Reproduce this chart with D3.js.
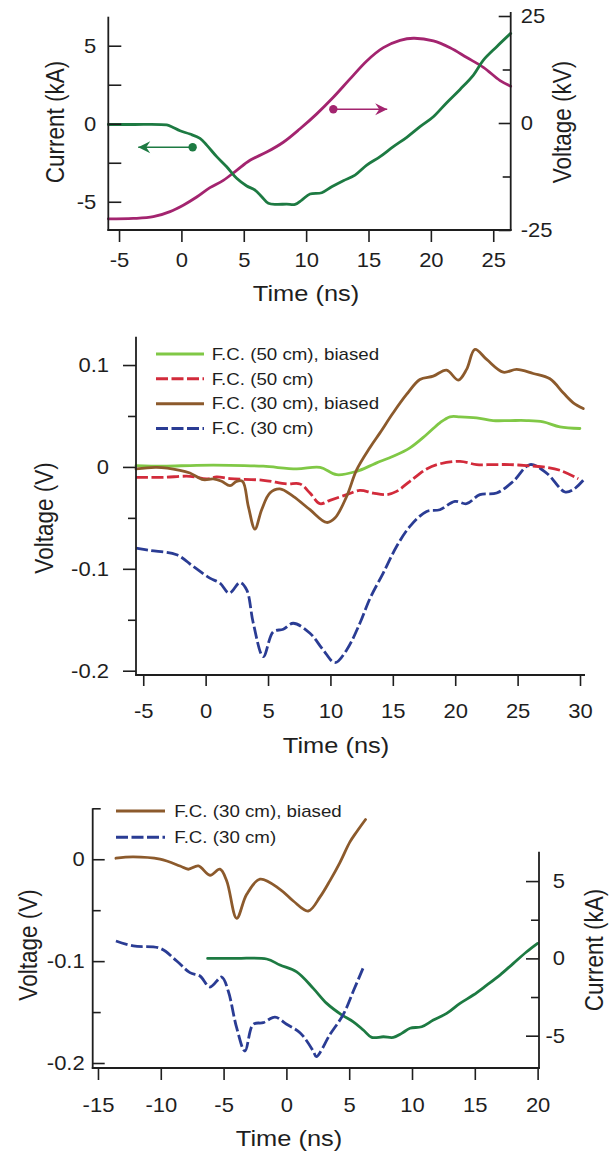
<!DOCTYPE html>
<html><head><meta charset="utf-8">
<script src="https://cdn.jsdelivr.net/npm/d3@7"></script>
<style>
body{margin:0;background:#fff;}
svg text{font-family:"Liberation Sans", Arial, sans-serif; fill:#1e1e1e;}
</style></head><body>
<svg id="c" width="616" height="1152"></svg>
<script>
// ---------- DATA ----------
// Top panel: current (kA) and voltage (kV) vs time (ns)
const topCurrentTime = [-5.86,-3.86,-1.18,-0.78,-0.11,0.69,1.49,2.03,2.83,3.63,4.43,5.24,5.9,6.44,6.97,7.64,8.44,9.11,9.65,10.31,11.25,12.05,12.98,13.92,14.86,15.93,16.99,18.07,19.13,20.2,21.27,22.34,23.41,24.21,25.28,26.4];
const topCurrentKA   = [-0.05,-0.05,-0.08,-0.19,-0.45,-0.66,-0.94,-1.37,-2.11,-2.76,-3.5,-3.99,-4.25,-4.68,-5.1,-5.17,-5.15,-5.17,-4.89,-4.5,-4.42,-4.04,-3.65,-3.29,-2.65,-2.11,-1.47,-0.87,-0.19,0.45,1.35,2.2,3.12,4.08,4.94,5.79];
const topVoltTime = [-5.86,-3.86,-2.25,-0.91,0.15,1.23,2.29,3.36,4.43,5.5,6.84,8.17,9.51,10.85,12.18,13.52,14.86,16.19,17.53,18.6,20.2,21.54,22.88,24.21,25.55,26.4];
const topVoltKV   = [-22.4,-22.3,-21.9,-20.7,-19.2,-17.3,-15.1,-13.4,-11.05,-8.7,-6.8,-4.5,-1.35,2.13,6.0,10.3,14.5,17.6,19.3,19.8,19.2,17.6,15.3,13.0,9.9,8.6];
const topXTicks = [-5,0,5,10,15,20,25];
const topLeftTicks = [-5,0,5];
const topLeftMinor = [-2.5,2.5];
const topRightTicks = [-25,0,25];
const topRightMinor = [-12.5,12.5];
// arrow markers: [time, value, arrow end time]
const currentMarker = [0.9,-1.51,-3.46];
const voltageMarker = [12.18,3.2,16.5];

// Middle panel: Faraday cup voltages (V) vs time (ns)
const fc50bTime = [-5.58,-3.4,-0.72,1.95,4.62,7.29,9.16,10.5,12.1,13.17,13.7,15.03,16.37,17.71,18.77,19.58,20.38,21.71,23.04,24.38,25.72,27.05,28.39,29.99];
const fc50bV    = [0.0013,0.0007,0.0016,0.0016,0.0007,-0.002,-0.0004,-0.0076,-0.0043,0.001,0.004,0.0104,0.0187,0.0318,0.0433,0.0492,0.0492,0.0482,0.0455,0.0455,0.0455,0.0442,0.0393,0.0377];
const fc50Time = [-5.58,-3.4,-1.26,0.08,0.88,1.95,4.62,6.49,7.56,8.36,9.16,9.96,11.3,12.36,13.43,14.5,15.3,16.37,17.71,18.77,20.38,21.71,23.04,24.38,25.72,27.05,28.39,29.86];
const fc50V    = [-0.0102,-0.0102,-0.0092,-0.0118,-0.0098,-0.0115,-0.0131,-0.0167,-0.0167,-0.0256,-0.0361,-0.0328,-0.0272,-0.023,-0.0256,-0.0272,-0.024,-0.0141,-0.002,0.003,0.0055,0.0023,0.0023,0.0023,0.0013,0,-0.0033,-0.0115];
const fc30bTime = [-5.58,-3.93,-2.06,-1.26,-0.19,0.61,1.28,1.95,2.48,2.96,3.42,3.95,4.49,5.15,5.95,7.02,8.36,9.7,10.36,11.3,12.1,13.17,13.97,15.03,16.1,17.17,18.24,19.31,20.24,20.91,21.58,22.52,23.85,24.92,26.25,27.59,28.65,29.46,30.26];
const fc30bV    = [-0.002,-0.0004,-0.0033,-0.006,-0.0125,-0.0118,-0.0141,-0.0184,-0.0141,-0.0141,-0.0387,-0.061,-0.042,-0.0256,-0.0216,-0.0289,-0.042,-0.0545,-0.0502,-0.0289,-0.003,0.019,0.0334,0.0531,0.0711,0.0858,0.0891,0.095,0.0852,0.0957,0.1153,0.1055,0.093,0.0957,0.0917,0.0865,0.0728,0.0629,0.0573];
const fc30Time = [-5.58,-4.46,-2.32,-0.99,0.34,1.15,1.89,2.75,3.29,3.82,4.62,5.42,6.22,7.02,8.36,9.42,10.36,11.3,12.36,13.17,14.23,15.3,16.37,17.71,18.77,19.98,20.91,21.98,23.32,24.65,25.99,27.32,28.79,29.46,30.26];
const fc30V    = [-0.0797,-0.082,-0.0862,-0.0977,-0.1091,-0.1141,-0.1239,-0.1135,-0.1207,-0.1534,-0.1862,-0.1617,-0.1593,-0.1534,-0.1632,-0.1796,-0.1921,-0.1796,-0.1534,-0.129,-0.1042,-0.0781,-0.0584,-0.0437,-0.042,-0.0338,-0.0361,-0.0272,-0.0256,-0.0141,0.0023,-0.006,-0.0246,-0.0223,-0.0131];
const midXTicks = [-5,0,5,10,15,20,25,30];
const midYTicks = [-0.2,-0.1,0,0.1];
const midYMinor = [-0.15,-0.05,0.05];
const midLegend = ["F.C. (50 cm), biased","F.C. (50 cm)","F.C. (30 cm), biased","F.C. (30 cm)"];

// Bottom panel: shifted F.C. (30 cm) traces with current
const botBrownTime = [-13.57,-12.19,-10.06,-8.47,-7.81,-7.01,-6.08,-5.29,-4.75,-3.96,-3.16,-2.1,-0.51,0.55,1.74,2.68,3.47,4.27,5.06,5.6,6.3];
const botBrownV    = [0.001,0.0023,0,-0.0066,-0.0098,-0.0066,-0.0157,-0.0098,-0.0213,-0.058,-0.0344,-0.0196,-0.0295,-0.041,-0.0508,-0.037,-0.021,-0.003,0.017,0.027,0.039];
const botBlueTime = [-13.57,-12.19,-10.06,-8.73,-7.68,-6.88,-6.08,-5.15,-4.63,-3.96,-3.3,-2.64,-1.84,-0.91,0.02,1.08,2.14,2.38,3.47,4.53,5.33,6.12];
const botBlueV    = [-0.0802,-0.0851,-0.0874,-0.0999,-0.1113,-0.1146,-0.1254,-0.1156,-0.1294,-0.1653,-0.1883,-0.162,-0.1604,-0.1549,-0.162,-0.1702,-0.1883,-0.1938,-0.172,-0.1523,-0.1294,-0.1064];
const botCurTime = [-6.27,-3.96,-1.57,-0.51,0.82,2.14,3.21,4.4,5.33,6.12,6.79,7.72,8.51,9.18,9.84,10.77,11.7,12.76,13.82,14.88,15.95,17.0,18.07,19.13,20.0];
const botCurKA   = [0,0,-0.04,-0.43,-0.87,-1.94,-2.91,-3.65,-4.1,-4.63,-5.11,-5.07,-5.11,-4.85,-4.52,-4.42,-3.99,-3.56,-2.91,-2.37,-1.73,-1.08,-0.32,0.43,0.97];
const botXTicks = [-15,-10,-5,0,5,10,15,20];
const botLeftTicks = [-0.2,-0.1,0];
const botLeftMinor = [-0.15,-0.05,0.05];
const botRightTicks = [-5,0,5];
const botRightMinor = [-2.5,2.5];
const botLegend = ["F.C. (30 cm), biased","F.C. (30 cm)"];

// ---------- STYLE ----------
const C = {green:"#1d7a42", magenta:"#a3246f", lime:"#80c846", red:"#d22b3b", brown:"#8c5a2c", blue:"#2a3c94", axis:"#1e1e1e"};
const DASH = "12,3.5";
const LW = 2.8;
const TF = 20, TK = 1.1;      // tick font size, horizontal stretch
const HF = 22.5, HK = 1.13;   // title font size, stretch
const LF = 16, LK = 1.17;     // legend font size, stretch
const svg = d3.select("#c");
const zip = (a,b)=>a.map((v,i)=>[v,b[i]]);
const fmt = d => String(d);

function line(g, x, y, xs, ys, color, dash){
  const gen = d3.line().x(d=>x(d[0])).y(d=>y(d[1])).curve(d3.curveCatmullRom.alpha(0.5));
  g.append("path").attr("d", gen(zip(xs,ys))).attr("fill","none").attr("stroke",color)
   .attr("stroke-width",LW).attr("stroke-linejoin","round").attr("stroke-linecap", dash?"butt":"round")
   .attr("stroke-dasharray", dash||null);
}
function styleAxis(sel){
  sel.select(".domain").remove();
  sel.selectAll(".tick line").attr("stroke",C.axis).attr("stroke-width",1.6);
  sel.selectAll(".tick text").attr("font-size",TF).attr("fill",C.axis).attr("font-family",'"Liberation Sans", Arial, sans-serif')
    .each(function(){ const t=d3.select(this); const X=+(t.attr("x")||0);
      t.attr("transform",`translate(${X},0) scale(${TK},1) translate(${-X},0)`); });
  return sel;
}
function vline(g,x,y1,y2){ g.append("line").attr("x1",x).attr("x2",x).attr("y1",y1).attr("y2",y2).attr("stroke",C.axis).attr("stroke-width",1.8); }
function hline(g,y,x1,x2){ g.append("line").attr("x1",x1).attr("x2",x2).attr("y1",y).attr("y2",y).attr("stroke",C.axis).attr("stroke-width",1.8); }
function title(g,txt,x,y,rot){
  g.append("text").attr("transform",`translate(${x},${y}) scale(${HK},1)`+(rot?" rotate(-90)":"")).attr("text-anchor","middle")
   .attr("font-size",HF).text(txt);
}
function legend(g, labels, cols, dashes, x1, x2, tx, y0, y1){
  const ly = d3.scalePoint().domain(labels).range([y0,y1]);
  labels.forEach((t,i)=>{
    g.append("line").attr("x1",x1).attr("x2",x2).attr("y1",ly(t)).attr("y2",ly(t)).attr("stroke",cols[i]).attr("stroke-width",3).attr("stroke-dasharray",dashes[i]);
    g.append("text").attr("transform",`translate(${tx},${ly(t)}) scale(${LK},1)`).attr("dy","0.36em").attr("font-size",LF).text(t);
  });
}

// ---------- TOP PANEL ----------
{
  const g = svg.append("g");
  const x = d3.scaleLinear().domain([-5.86,26.4]).range([108.3,510.7]);
  const yL = d3.scaleLinear().domain([-6.81,6.86]).range([230,16.7]);
  const yR = d3.scaleLinear().domain([-25,25]).range([230,16]);
  line(g,x,yR,topVoltTime,topVoltKV,C.magenta);
  line(g,x,yL,topCurrentTime,topCurrentKA,C.green);
  styleAxis(g.append("g").attr("transform","translate(0,230)").call(d3.axisBottom(x).tickValues(topXTicks).tickSize(12).tickPadding(11).tickFormat(fmt)));
  styleAxis(g.append("g").attr("transform","translate(108.3,0)").call(d3.axisLeft(yL).tickValues(topLeftTicks).tickSize(-13).tickPadding(12).tickFormat(fmt)));
  styleAxis(g.append("g").attr("transform","translate(108.3,0)").call(d3.axisLeft(yL).tickValues(topLeftMinor).tickSize(-13).tickFormat("")));
  styleAxis(g.append("g").attr("transform","translate(510.7,0)").call(d3.axisRight(yR).tickValues(topRightTicks).tickSize(-12).tickPadding(10).tickFormat(fmt)));
  styleAxis(g.append("g").attr("transform","translate(510.7,0)").call(d3.axisRight(yR).tickValues(topRightMinor).tickSize(-8).tickFormat("")));
  vline(g,108.3,16.7,230.8); vline(g,510.7,12,230.8); hline(g,230,107.4,511.6);
  title(g,"Time (ns)",306,301,false);
  title(g,"Current (kA)",64,122,true);
  title(g,"Voltage (kV)",571,122,true);
  const arrow = (x0,y0,x1,color)=>{
    g.append("line").attr("x1",x0).attr("x2",x1).attr("y1",y0).attr("y2",y0).attr("stroke",color).attr("stroke-width",1.6);
    g.append("circle").attr("cx",x0).attr("cy",y0).attr("r",4.2).attr("fill",color);
    const s = x1>x0?1:-1;
    g.append("path").attr("d",`M${x1},${y0} L${x1-s*12},${y0-6} L${x1-s*8},${y0} L${x1-s*12},${y0+6} Z`).attr("fill",color);
  };
  arrow(x(currentMarker[0]),yL(currentMarker[1]),x(currentMarker[2]),C.green);
  arrow(x(voltageMarker[0]),yR(voltageMarker[1]),x(voltageMarker[2]),C.magenta);
}

// ---------- MIDDLE PANEL ----------
{
  const g = svg.append("g");
  const x = d3.scaleLinear().domain([-5.58,30.4]).range([136,585]);
  const y = d3.scaleLinear().domain([-0.2042,0.1278]).range([675,336.7]);
  line(g,x,y,fc30Time,fc30V,C.blue,DASH);
  line(g,x,y,fc50Time,fc50V,C.red,DASH);
  line(g,x,y,fc50bTime,fc50bV,C.lime);
  line(g,x,y,fc30bTime,fc30bV,C.brown);
  styleAxis(g.append("g").attr("transform","translate(0,675)").call(d3.axisBottom(x).tickValues(midXTicks).tickSize(11).tickPadding(18).tickFormat(fmt)));
  styleAxis(g.append("g").attr("transform","translate(136,0)").call(d3.axisLeft(y).tickValues(midYTicks).tickSize(13).tickPadding(14).tickFormat(fmt)));
  styleAxis(g.append("g").attr("transform","translate(136,0)").call(d3.axisLeft(y).tickValues(midYMinor).tickSize(8).tickFormat("")));
  vline(g,136,336.7,675.8); hline(g,675,135.2,585);
  title(g,"Time (ns)",336,753,false);
  title(g,"Voltage (V)",53,518,true);
  legend(g, midLegend, [C.lime,C.red,C.brown,C.blue], [null,DASH,null,DASH], 156, 204, 211.7, 354, 428.5);
}

// ---------- BOTTOM PANEL ----------
{
  const g = svg.append("g");
  const x = d3.scaleLinear().domain([-15.42,20.11]).range([92.7,539]);
  const yL = d3.scaleLinear().domain([-0.2049,0.05]).range([1068,808.3]);
  const yR = d3.scaleLinear().domain([-7.09,6.9]).range([1068,851.7]);
  line(g,x,yR,botCurTime,botCurKA,C.green);
  line(g,x,yL,botBlueTime,botBlueV,C.blue,DASH);
  line(g,x,yL,botBrownTime,botBrownV,C.brown);
  styleAxis(g.append("g").attr("transform","translate(0,1068)").call(d3.axisBottom(x).tickValues(botXTicks).tickSize(12).tickPadding(18).tickFormat(fmt)));
  styleAxis(g.append("g").attr("transform","translate(92.7,0)").call(d3.axisLeft(yL).tickValues(botLeftTicks).tickSize(-12).tickPadding(8).tickFormat(fmt)));
  styleAxis(g.append("g").attr("transform","translate(92.7,0)").call(d3.axisLeft(yL).tickValues(botLeftMinor).tickSize(-8).tickFormat("")));
  const ra = g.append("g").attr("transform","translate(539,0)").call(d3.axisRight(yR).tickValues(botRightTicks).tickSize(-13).tickPadding(10).tickFormat(fmt));
  ra.selectAll(".tick text").attr("text-anchor","end").attr("x",26);
  styleAxis(ra);
  styleAxis(g.append("g").attr("transform","translate(539,0)").call(d3.axisRight(yR).tickValues(botRightMinor).tickSize(-8).tickFormat("")));
  vline(g,92.7,808.3,1068.8); vline(g,539,851.7,1068.8); hline(g,1068,91.8,539.8);
  title(g,"Time (ns)",289,1146,false);
  title(g,"Voltage (V)",37,945,true);
  title(g,"Current (kA)",603,950,true);
  legend(g, botLegend, [C.brown,C.blue], [null,DASH], 116, 165, 174.3, 811, 837.3);
}
</script>
</body></html>
